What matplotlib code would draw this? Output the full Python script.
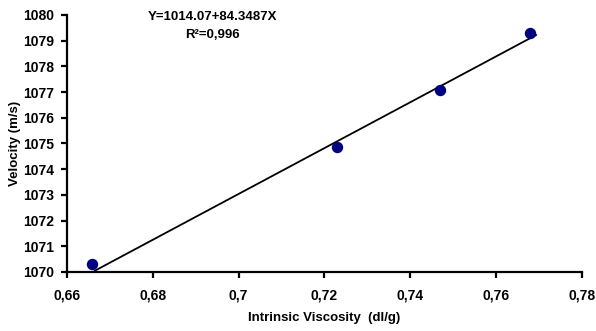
import matplotlib
matplotlib.use("Agg")
import matplotlib.pyplot as plt
from matplotlib.ticker import FuncFormatter

viscosity = [0.6658, 0.7228, 0.7469, 0.7679]
velocity = [1070.3, 1074.85, 1077.1, 1079.3]
fit_x = [0.6665, 0.7693]
fit_y = [1070.05, 1079.22]
x_ticks = [0.66, 0.68, 0.70, 0.72, 0.74, 0.76, 0.78]
y_ticks = list(range(1070, 1081))
equation = "Y=1014.07+84.3487X"
r2 = "R²=0,996"

plt.rcParams['font.family'] = ['Liberation Sans', 'DejaVu Sans']
plt.rcParams['font.weight'] = 'bold'

fig = plt.figure(figsize=(5.96, 3.31), dpi=100)
ax = fig.add_axes([67/596, 1 - 272/331, (582-67)/596, (272-15)/331])

ax.plot(fit_x, fit_y, color='black', lw=1.3, zorder=2)
ax.plot(viscosity, velocity, 'o', color='#000080', ms=7.2, zorder=3)

ax.set_xlim(0.66, 0.78)
ax.set_ylim(1070, 1080)
ax.set_xticks(x_ticks)
ax.set_yticks(y_ticks)

def fmt(v, pos):
    s = ('%.2f' % v).rstrip('0').rstrip('.')
    return s.replace('.', ',')
ax.xaxis.set_major_formatter(FuncFormatter(fmt))
ax.yaxis.set_major_formatter(FuncFormatter(lambda v, p: '%d' % v))

for s in ['top', 'right']:
    ax.spines[s].set_visible(False)
for s in ['left', 'bottom']:
    ax.spines[s].set_linewidth(1.6)
ax.tick_params(direction='out', length=4, width=1.6, labelsize=10)
ax.tick_params(axis='x', pad=8)
ax.tick_params(axis='y', pad=5)
for lab in ax.get_xticklabels() + ax.get_yticklabels():
    lab.set_fontweight('bold')

ax.set_xlabel('Intrinsic Viscosity  (dl/g)', fontsize=9.5, fontweight='bold', labelpad=7)
ax.set_ylabel('Velocity (m/s)', fontsize=9.5, fontweight='bold', labelpad=2)

fig.text(212/596, 1 - 17/331, equation, ha='center', va='center', fontsize=9.5, fontweight='bold')
fig.text(212/596, 1 - 35/331, r2, ha='center', va='center', fontsize=9.5, fontweight='bold')

fig.savefig('out.png', dpi=100)
